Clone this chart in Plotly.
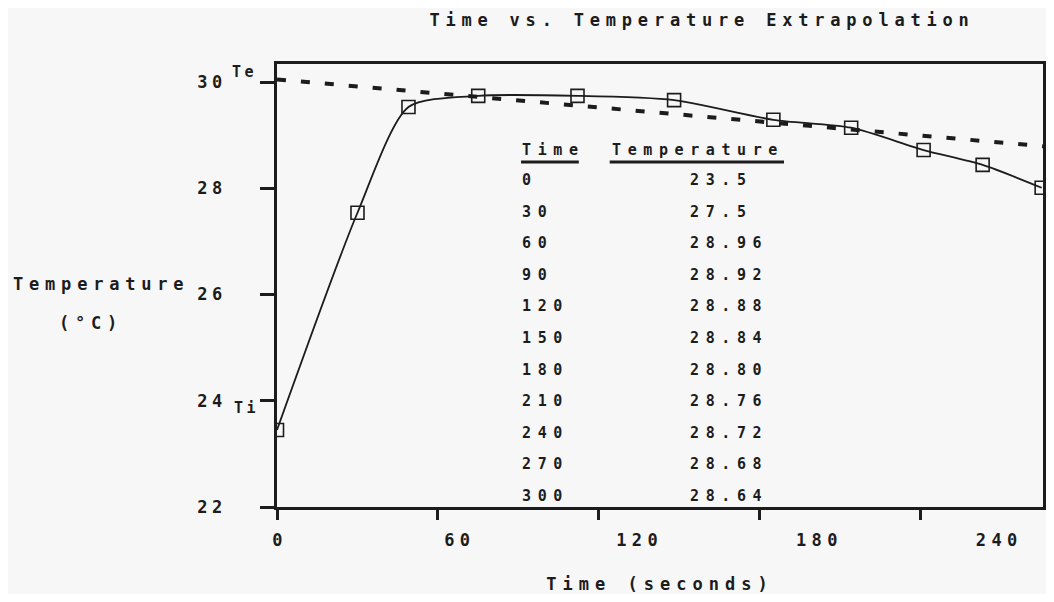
import plotly.graph_objects as go

# ---- data ----
time_s = [0, 30, 49, 75, 112, 148, 185, 214, 241, 263, 285]
temp_c = [23.45, 27.54, 29.53, 29.74, 29.74, 29.66, 29.29, 29.14, 28.72, 28.44, 28.01]

extrap_time = [0, 286]
extrap_temp = [30.05, 28.79]

table_time = ["0", "30", "60", "90", "120", "150", "180", "210", "240", "270", "300"]
table_temp = ["23.5", "27.5", "28.96", "28.92", "28.88", "28.84", "28.80",
              "28.76", "28.72", "28.68", "28.64"]

x_ticks = [0, 60, 120, 180, 240]
y_ticks = [22, 24, 26, 28, 30]

# ---- layout helpers (page pixel coordinates; the page body has an 8px margin) ----
OFF = 8
PAGE_W, PAGE_H = 1054, 602
W, H = PAGE_W - 2 * OFF, PAGE_H - 2 * OFF
PLOT_L, PLOT_R, PLOT_T, PLOT_B = 277, 1046, 64, 507
L = PLOT_L - OFF
R = W - (PLOT_R - OFF)
T = PLOT_T - OFF
B = H - (PLOT_B - OFF)


def px(x):
    return (x - PLOT_L) / (PLOT_R - PLOT_L)


def py(y):
    return (PLOT_B - y) / (PLOT_B - PLOT_T)


INK = "#1c1c1c"
FONT = "DejaVu Sans Mono"
BG = "#f7f7f7"


def spaced(s, sp):
    return f'<span style="letter-spacing:{sp}px">{s}</span>'


def fnt(size):
    return dict(family=FONT, size=size, color=INK, weight="bold")


fig = go.Figure()

fig.add_trace(go.Scatter(
    x=extrap_time, y=extrap_temp, mode="lines",
    line=dict(color=INK, width=4, dash="9px,15px"),
    showlegend=False, hoverinfo="skip"))

fig.add_trace(go.Scatter(
    x=time_s, y=temp_c, mode="lines+markers",
    line=dict(color=INK, width=1.8, shape="spline", smoothing=0.7),
    marker=dict(symbol="square-open", size=13, color=INK, line=dict(width=1.6, color=INK)),
    showlegend=False))

# empty trace so the label axis is created
fig.add_trace(go.Scatter(x=[], y=[], xaxis="x2", yaxis="y", showlegend=False))

annotations = []


def add_text(text, x, y, size, sp, xanchor="left"):
    annotations.append(dict(
        text=spaced(text, sp), x=px(x), y=py(y), xref="paper", yref="paper",
        xanchor=xanchor, yanchor="middle", showarrow=False, font=fnt(size)))


# y-axis title (horizontal, two lines)
add_text("Temperature", 100, 284, 17, 5.8, "center")
add_text("(°C)", 90, 323, 17, 5.8, "center")
# Te / Ti markers
add_text("Te", 244, 72, 15, 3.5, "center")
add_text("Ti", 246, 408, 15, 3.5, "center")

# table
add_text("Time", 521, 150, 15, 6.6)
add_text("Temperature", 611, 150, 15, 6.6)
for i, (t, v) in enumerate(zip(table_time, table_temp)):
    yy = 180 + i * 31.6
    add_text(t, 521, yy, 15, 6.6)
    add_text(v, 690, yy, 15, 6.6)

shapes = [
    dict(type="line", xref="paper", yref="paper", x0=px(522), x1=px(580),
         y0=py(162), y1=py(162), line=dict(color=INK, width=3)),
    dict(type="line", xref="paper", yref="paper", x0=px(611), x1=px(786),
         y0=py(162), y1=py(162), line=dict(color=INK, width=3)),
]

fig.update_layout(
    width=W, height=H,
    margin=dict(l=L, r=R, t=T, b=B, pad=0),
    paper_bgcolor=BG, plot_bgcolor=BG,
    showlegend=False,
    title=dict(text=spaced("Time vs. Temperature Extrapolation", 5.8),
               font=fnt(17), x=(702 - OFF) / W, xref="container", xanchor="center",
               y=1 - (20 - OFF) / H, yref="container", yanchor="middle"),
    xaxis=dict(range=[0, 285.5], tickvals=x_ticks, showticklabels=False,
               ticks="outside", ticklen=10, tickwidth=3, tickcolor=INK,
               showline=True, linewidth=3, linecolor=INK, mirror=True,
               showgrid=False, zeroline=False,
               title=dict(text=spaced("Time (seconds)", 6.0), font=fnt(17), standoff=60)),
    xaxis2=dict(overlaying="x", anchor="y", side="bottom", range=[-1, 254.6],
                tickvals=x_ticks, ticktext=[spaced(str(v), 5.4) for v in x_ticks],
                tickfont=fnt(17), ticks="", showline=False, showgrid=False,
                zeroline=False, ticklabelstandoff=21),
    yaxis=dict(range=[22, 30.34], tickvals=y_ticks,
               ticktext=[spaced(str(v), 4.4) for v in y_ticks], tickfont=fnt(17),
               ticks="outside", ticklen=14, tickwidth=3, tickcolor=INK,
               showline=True, linewidth=3, linecolor=INK, mirror=True,
               showgrid=False, zeroline=False, ticklabelstandoff=30),
    annotations=annotations,
    shapes=shapes,
)

fig.write_html("out.html")
